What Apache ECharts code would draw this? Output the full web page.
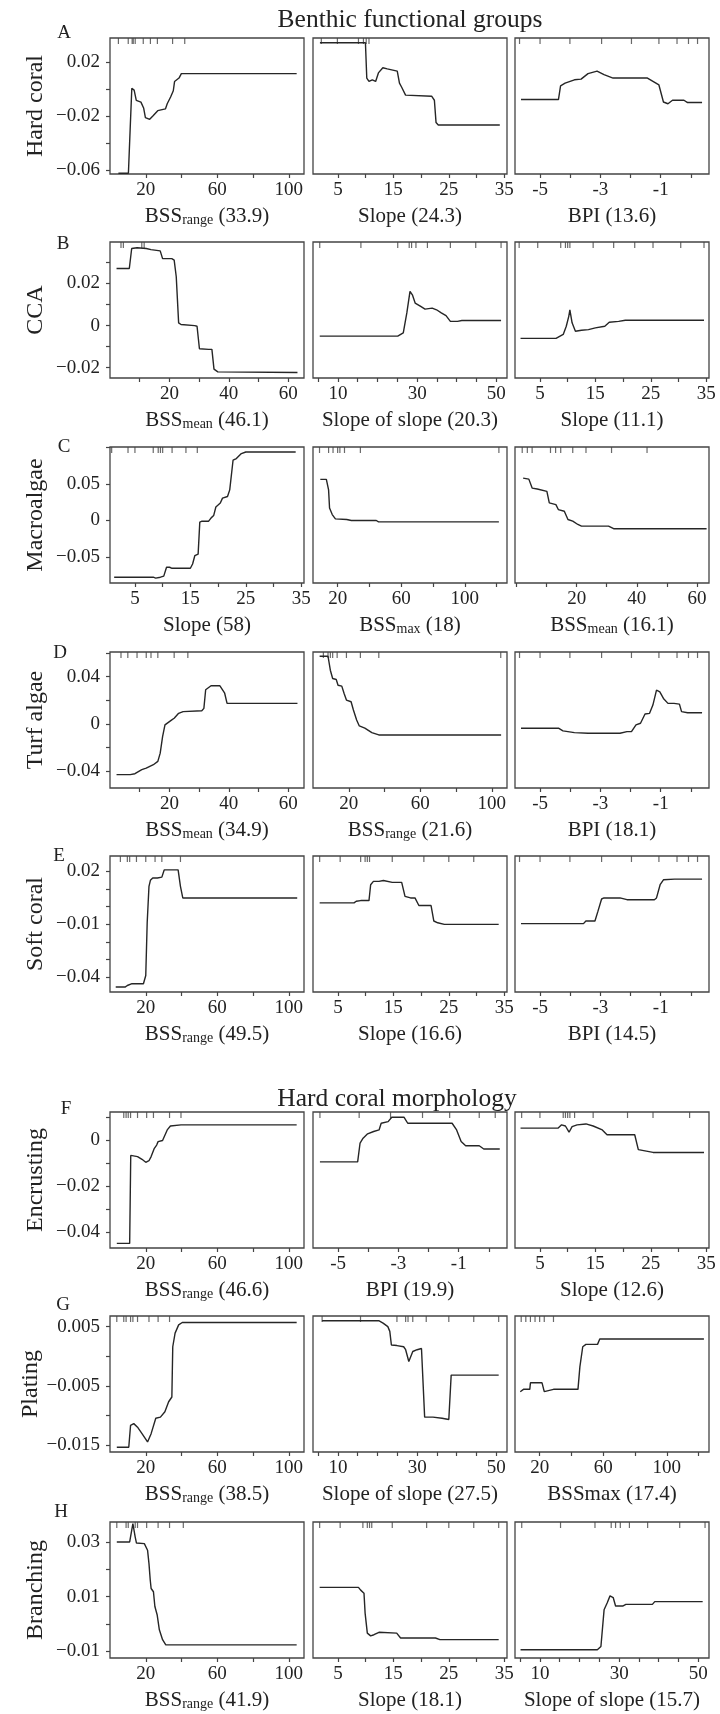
<!DOCTYPE html>
<html>
<head>
<meta charset="utf-8">
<title>Benthic functional groups / Hard coral morphology</title>
<script src="https://cdn.jsdelivr.net/npm/echarts@6/dist/echarts.min.js"></script>
<style>
  html, body { margin: 0; padding: 0; background: #fff; }
  #chart { width: 720px; height: 1714px; }
</style>
</head>
<body>
<div id="chart"></div>
<script>
// row labels and panel names
var rowNames = ['Hard coral', 'CCA', 'Macroalgae', 'Turf algae', 'Soft coral', 'Encrusting', 'Plating', 'Branching'];
var rowLetters = ['A', 'B', 'C', 'D', 'E', 'F', 'G', 'H'];
// [main, subscript, relative influence]
var panelNames = [
  [['BSS', 'range', '33.9'], ['Slope', '', '24.3'], ['BPI', '', '13.6']],
  [['BSS', 'mean', '46.1'], ['Slope of slope', '', '20.3'], ['Slope', '', '11.1']],
  [['Slope', '', '58'], ['BSS', 'max', '18'], ['BSS', 'mean', '16.1']],
  [['BSS', 'mean', '34.9'], ['BSS', 'range', '21.6'], ['BPI', '', '18.1']],
  [['BSS', 'range', '49.5'], ['Slope', '', '16.6'], ['BPI', '', '14.5']],
  [['BSS', 'range', '46.6'], ['BPI', '', '19.9'], ['Slope', '', '12.6']],
  [['BSS', 'range', '38.5'], ['Slope of slope', '', '27.5'], ['BSSmax', '', '17.4']],
  [['BSS', 'range', '41.9'], ['Slope', '', '18.1'], ['Slope of slope', '', '15.7']]
];
var panelVars = [
  ['range', 'slope', 'bpi'], ['mean', 'sos', 'slope'], ['slope', 'max', 'mean2'], ['mean', 'range', 'bpi'],
  ['range', 'slope', 'bpi'], ['range', 'bpi', 'slope'], ['range', 'sos', 'max'], ['range', 'slope', 'sos']
];

// x axes: limits, ticks, labels
var xLimits = {
  range: [0, 108.5], slope: [0.5, 35.5], bpi: [-5.83, 0.6], mean: [0, 65.3],
  mean2: [-0.5, 64], sos: [3.7, 52.7], max: [4.5, 126.5]
};
var xTicks = {
  range: [20, 40, 60, 80, 100], slope: [5, 10, 15, 20, 25, 30, 35], bpi: [-5, -4, -3, -2, -1, 0],
  mean: [10, 20, 30, 40, 50, 60], mean2: [0, 10, 20, 30, 40, 50, 60],
  sos: [5, 10, 15, 20, 25, 30, 35, 40, 45, 50], max: [20, 40, 60, 80, 100, 120]
};
var xLabels = {
  range: [20, 60, 100], slope: [5, 15, 25, 35], bpi: [-5, -3, -1], mean: [20, 40, 60],
  mean2: [20, 40, 60], sos: [10, 30, 50], max: [20, 60, 100]
};

// y axes per row
var yLimits = [[-0.0628, 0.0377], [-0.0249, 0.0397], [-0.085, 0.1], [-0.0542, 0.0609],
  [-0.0484, 0.0288], [-0.0468, 0.0124], [-0.0162, 0.0068], [-0.0124, 0.0373]];
var yTicks = [[-0.06, -0.04, -0.02, 0, 0.02], [-0.02, -0.01, 0, 0.01, 0.02, 0.03], [-0.05, 0, 0.05, 0.1],
  [-0.04, -0.02, 0, 0.02, 0.04, 0.06], [-0.04, -0.03, -0.02, -0.01, 0, 0.01, 0.02],
  [-0.04, -0.03, -0.02, -0.01, 0, 0.01], [-0.015, -0.01, -0.005, 0, 0.005], [-0.01, 0, 0.01, 0.02, 0.03]];
var yLabels = [[-0.06, -0.02, 0.02], [-0.02, 0, 0.02], [-0.05, 0, 0.05], [-0.04, 0, 0.04],
  [-0.04, -0.01, 0.02], [-0.04, -0.02, 0], [-0.015, -0.005, 0.005], [-0.01, 0.01, 0.03]];

// partial dependence curves
var a1 = [[4.7,-0.0623],[10.3,-0.0623],[11.3,-0.0288],[12.2,0.0005],[13.5,-0.0008],[14.7,-0.0084],[17.3,-0.0097],[18.8,-0.014],[19.8,-0.0211],[22.2,-0.0224],[24.1,-0.0198],[26.7,-0.016],[31,-0.0147],[32,-0.0109],[33.9,-0.0059],[35.4,-0.0013],[36.1,0.0055],[38.6,0.0081],[39.9,0.0114],[104.4,0.0114]];
var a2 = [[1.75,0.0342],[9.96,0.0342],[10.2,0.0081],[10.6,0.0056],[11.2,0.0068],[11.8,0.0056],[12.3,0.0119],[13.1,0.0157],[13.9,0.0149],[15.7,0.0132],[16.1,0.0043],[16.5,0.0013],[17.2,-0.0045],[21.9,-0.0053],[22.4,-0.0083],[22.7,-0.0248],[23.1,-0.0266],[34.2,-0.0266]];
var a3 = [[-5.63,-0.0078],[-4.39,-0.0078],[-4.32,0.0023],[-4.17,0.0043],[-3.86,0.0068],[-3.64,0.0073],[-3.41,0.0114],[-3.11,0.0132],[-2.88,0.0106],[-2.58,0.0081],[-1.44,0.0081],[-1.06,0.003],[-0.91,-0.0096],[-0.76,-0.0109],[-0.61,-0.0083],[-0.23,-0.0083],[-0.11,-0.01],[0.37,-0.01]];
var b1 = [[2.2,0.0271],[6.5,0.0271],[7.3,0.0366],[9.1,0.037],[12.2,0.0366],[13.8,0.0361],[16.9,0.0355],[17.7,0.0318],[20.8,0.0318],[21.6,0.0311],[22.3,0.0232],[23.1,0.0013],[23.9,0.0005],[28.5,0],[29.3,-0.0003],[30.1,-0.011],[33.2,-0.0113],[34.3,-0.0113],[35,-0.0207],[36.3,-0.022],[63.1,-0.0223]];
var b2 = [[5.4,-0.005],[25.1,-0.005],[26.5,-0.0035],[27.4,0.006],[28.2,0.0162],[28.8,0.0146],[29.5,0.0107],[30.9,0.0091],[32,0.0078],[33.8,0.0083],[34.9,0.0075],[36.1,0.006],[37.3,0.0047],[38.4,0.002],[40.2,0.002],[41.3,0.0024],[51.2,0.0024]];
var b3 = [[1.5,-0.0061],[7.9,-0.0061],[9.2,-0.0042],[9.75,-0.0003],[10.2,0.0044],[10.4,0.0075],[10.8,0.0013],[11.4,-0.0027],[12.5,-0.0022],[13.75,-0.0019],[15,-0.0011],[16.7,-0.0003],[17.5,0.0016],[19.2,0.002],[20.4,0.0025],[34.6,0.0025]];
var c1 = [[1.25,-0.0771],[8.3,-0.0771],[8.75,-0.0784],[9.6,-0.0771],[10.2,-0.0757],[10.7,-0.0636],[11.25,-0.0636],[11.7,-0.065],[15,-0.065],[15.4,-0.0591],[15.8,-0.0479],[16.4,-0.0457],[16.7,-0.0022],[17.1,-0.0009],[18.3,-0.0009],[18.75,0.0036],[19.2,0.0067],[19.6,0.0184],[20.4,0.0237],[20.8,0.0305],[21.7,0.0327],[22.1,0.0417],[22.7,0.082],[23.3,0.0842],[24.2,0.091],[25,0.0932],[34,0.0932]];
var c2 = [[9.1,0.056],[12.9,0.056],[14.3,0.0417],[14.9,0.017],[16.6,0.0081],[18.6,0.0022],[25.7,0.0013],[28.6,0],[44.3,0],[45.7,-0.0018],[121.4,-0.0018]];
var c3 = [[2.2,0.0576],[4.1,0.0563],[5.2,0.0441],[6.9,0.0428],[10.1,0.0396],[10.9,0.0239],[13.1,0.0216],[13.9,0.0149],[15.9,0.0126],[17.1,0.0014],[18.7,-0.0009],[20.4,-0.0054],[21.6,-0.0077],[30.6,-0.0077],[32.3,-0.0112],[63.2,-0.0112]];
var d1 = [[2.2,-0.0429],[6.8,-0.0429],[8.4,-0.0421],[10.7,-0.0387],[12.2,-0.0373],[14.6,-0.0345],[16.1,-0.0317],[16.9,-0.0247],[17.7,-0.0107],[18.5,-0.0008],[20,0.002],[20.8,0.0034],[21.6,0.0048],[23.1,0.009],[24.6,0.0104],[30.9,0.0112],[31.6,0.0132],[32.2,0.029],[34,0.0323],[37,0.0323],[38.6,0.026],[39.4,0.0174],[63.1,0.0174]];
var d2 = [[3.7,0.0573],[8.4,0.0573],[9.7,0.0455],[11,0.0385],[13,0.0376],[14,0.0328],[16.1,0.032],[17.4,0.0258],[18.7,0.0202],[21.3,0.0188],[22.6,0.0118],[24.4,0.0034],[25.9,-0.0017],[29,-0.0036],[32.9,-0.0073],[36.8,-0.0093],[105.2,-0.0093]];
var d3 = [[-5.63,-0.0036],[-4.39,-0.0036],[-4.24,-0.0059],[-3.86,-0.0073],[-3.41,-0.0079],[-2.35,-0.0079],[-2.12,-0.0065],[-1.97,-0.0065],[-1.82,-0.0008],[-1.67,0.0006],[-1.52,0.0084],[-1.37,0.009],[-1.26,0.016],[-1.14,0.0286],[-1.03,0.0272],[-0.91,0.0216],[-0.76,0.0174],[-0.56,0.0174],[-0.38,0.0168],[-0.31,0.0104],[-0.11,0.0095],[0.37,0.0095]];
var e1 = [[3.2,-0.0456],[8.4,-0.0456],[9.7,-0.0447],[12.3,-0.0437],[18.7,-0.0437],[20,-0.039],[20.8,-0.0091],[21.8,0.0116],[22.6,0.015],[23.9,0.0163],[26.5,0.0163],[29,0.0168],[30.3,0.0209],[38.1,0.0209],[39.4,0.0116],[40.7,0.005],[104.7,0.005]];
var e2 = [[1.7,0.0022],[7.9,0.0022],[8.3,0.0031],[9.1,0.0035],[10.6,0.0035],[10.9,0.0125],[11.4,0.0144],[12.4,0.0144],[13.2,0.0149],[14.8,0.0138],[16.5,0.0138],[17.1,0.0059],[18.1,0.005],[18.9,0.005],[19.6,0.0007],[21.8,0.0007],[22.3,-0.0081],[23,-0.0091],[24.2,-0.01],[34,-0.01]];
var e3 = [[-5.63,-0.0096],[-3.56,-0.0096],[-3.48,-0.0081],[-3.18,-0.0081],[-3.08,-0.0025],[-2.96,0.0044],[-2.88,0.005],[-2.35,0.005],[-2.12,0.004],[-1.21,0.004],[-1.14,0.005],[-1.02,0.0125],[-0.91,0.0153],[-0.54,0.0157],[0.37,0.0157]];
var f1 = [[3.8,-0.0448],[11,-0.0448],[11.6,-0.0065],[12.3,-0.0065],[15.4,-0.007],[17.9,-0.0082],[20,-0.0095],[21.8,-0.0088],[23,-0.007],[24.8,-0.0034],[26.1,-0.002],[26.9,-0.0005],[29.4,0],[32,0.0046],[33.8,0.0063],[39.7,0.0068],[104.4,0.0068]];
var f2 = [[-5.6,-0.0093],[-4.35,-0.0093],[-4.27,-0.0011],[-4.17,0.001],[-4.02,0.0029],[-3.82,0.0039],[-3.64,0.0046],[-3.57,0.0075],[-3.34,0.0082],[-3.22,0.0101],[-2.81,0.0101],[-2.69,0.0075],[-1.22,0.0075],[-1.07,0.0046],[-0.92,-0.0004],[-0.77,-0.0023],[-0.32,-0.0023],[-0.17,-0.0037],[0.36,-0.0037]];
var f3 = [[1.5,0.0054],[8.3,0.0054],[8.9,0.0068],[9.6,0.0063],[10.25,0.0036],[10.8,0.006],[11.7,0.0068],[13.3,0.0072],[14.6,0.0063],[16.25,0.0046],[17.1,0.0025],[22.1,0.0025],[22.75,-0.004],[25.4,-0.0052],[34.6,-0.0052]];
var g1 = [[3.8,-0.0154],[10.5,-0.0154],[11.5,-0.0117],[13.3,-0.0114],[15.4,-0.012],[17.9,-0.0131],[21,-0.0145],[23,-0.0131],[25.6,-0.0105],[28.2,-0.0103],[30.7,-0.0094],[32.8,-0.0077],[34.6,-0.0069],[35.1,0.0016],[36.4,0.0039],[38.4,0.0053],[40.4,0.0057],[104.4,0.0057]];
var g2 = [[6,0.006],[20.3,0.006],[21.4,0.0056],[22.6,0.005],[23.1,0.0042],[23.5,0.0019],[24.9,0.0018],[26.6,0.0016],[27.1,0.0011],[27.9,-0.0009],[28.9,0.0008],[30,0.0011],[31.1,0.0013],[31.5,0.0011],[31.9,-0.0103],[34,-0.0103],[36.3,-0.0105],[38,-0.0107],[38.6,-0.0032],[39.7,-0.0032],[50.6,-0.0032]];
var g3 = [[7.8,-0.006],[9.8,-0.0056],[13.8,-0.0056],[14.2,-0.0045],[21.5,-0.0045],[22.9,-0.006],[28.7,-0.0056],[44.1,-0.0056],[45.3,-0.0018],[47.1,0.0016],[49.1,0.002],[56.4,0.002],[57.8,0.0029],[123.3,0.0029]];
var h1 = [[3.8,0.03],[11,0.03],[12.8,0.0367],[14.1,0.0318],[14.8,0.0296],[19.2,0.0294],[21,0.027],[21.8,0.0221],[22.5,0.0161],[23,0.013],[24.3,0.0118],[25.1,0.0064],[26.4,0.0033],[27.6,-0.0021],[29.4,-0.0057],[31.2,-0.0076],[104.4,-0.0076]];
var h2 = [[1.7,0.0134],[8.7,0.0134],[9.1,0.0124],[9.7,0.0113],[9.9,0.004],[10.3,-0.0033],[10.9,-0.0043],[11.5,-0.0039],[12.4,-0.003],[15.6,-0.0033],[16.3,-0.0051],[22.6,-0.0051],[23.4,-0.0057],[34,-0.0057]];
var h3 = [[5.1,-0.0094],[24.5,-0.0094],[25.4,-0.0082],[26.2,0.0052],[27,0.0078],[27.7,0.0103],[28.5,0.0097],[29.1,0.0066],[30.9,0.0066],[31.7,0.0072],[38.4,0.0072],[39,0.0082],[51.1,0.0082]];

// deciles rug (top of each panel)
var ra1 = [4.7, 10.2, 12.4, 13, 14.1, 18.6, 22.6, 26.5, 35, 41.8];
var ra2 = [2, 4.9, 8.7, 9.6, 10.1, 10.6];
var ra3 = [-5.68, -5, -4.01, -2.96, -1.97, -1.06, -0.46, -0.08, 0.22];
var rb1 = [3.7, 4.5, 10.7, 11.5];
var rb2 = [5.4, 15.8, 25.1, 28, 28.6, 29.7, 32.6, 38.4, 44.8, 51.2];
var rb3 = [1.25, 4.6, 8.75, 9.6, 10, 10.4, 14.6, 18.3, 22.1, 25.4, 30.4, 34.6];
var rc1 = [0.8, 3.75, 5, 8.3, 9.2, 9.6, 10, 11.7, 14.2, 16.25];
var rc2 = [8.6, 14.3, 17.1, 20, 21.4, 24.3, 34.3, 121.4];
var rc3 = [1.9, 3.6, 5.2, 11.3, 13, 14.7, 18.7, 23.1, 31.6, 43.4];
var rd1 = [3.7, 6, 9.1, 12.2, 13.8, 16.1, 21.6, 26.2];
var rd2 = [5.8, 8.4, 9.7, 11, 13.5, 18.7, 26.5, 36.8, 105];
var rd3 = [-5.68, -5, -4.01, -2.96, -1.97, -1.06, -0.46, -0.08, 0.22];
var re1 = [5.8, 9.7, 11, 14.8, 20, 25.2, 29, 39.4];
var re2 = [1.7, 5.4, 9.1, 9.9, 10.3, 10.7, 14.8, 20.5, 25, 29.5];
var re3 = [-5.68, -5, -4.01, -2.96, -1.97, -1.06, -0.46, -0.08, 0.22];
var rf1 = [7.7, 9, 10.2, 11.5, 15.4, 20.5, 24.3, 33.3, 39.7];
var rf2 = [-5.6, -4.3, -3.26, -2.2, -1.3, -0.32, 0.21];
var rf3 = [1.7, 5, 9.2, 9.6, 10, 10.4, 11.25, 14.6, 20.8, 25.4, 32];
var rg1 = [3.8, 7.7, 9, 11.5, 12.8, 15.4, 21.8, 26.9, 33.3];
var rg2 = [6, 15.7, 24.9, 27.1, 27.7, 28.9, 32.3, 38, 44.3, 50.6];
var rg3 = [8.4, 11.3, 14.2, 17.1, 20, 22.9, 28.7];
var rh1 = [3.8, 9, 10.2, 14.1, 15.4, 20.5, 26.9, 33.3, 41];
var rh2 = [1.7, 5.4, 9.5, 10.3, 10.7, 11.1, 14.8, 21, 25, 29.5, 34];
var rh3 = [5.4, 15.2, 23.9, 28, 29.1, 30.3, 32.6, 37.2, 45.3, 51.7];

var curves = [[a1, a2, a3], [b1, b2, b3], [c1, c2, c3], [d1, d2, d3], [e1, e2, e3], [f1, f2, f3], [g1, g2, g3], [h1, h2, h3]];
var rugs = [[ra1, ra2, ra3], [rb1, rb2, rb3], [rc1, rc2, rc3], [rd1, rd2, rd3], [re1, re2, re3], [rf1, rf2, rf3], [rg1, rg2, rg3], [rh1, rh2, rh3]];

// layout
var FONT = 'Liberation Serif';
var INK = '#222';
var colLeft = [110, 313, 515];
var rowTop = [38, 242, 447, 652, 856, 1112, 1316, 1522];
var plotW = 194, plotH = 136;
var letterPos = [[64, 33], [63, 244], [64, 447], [60, 653], [59, 856], [66, 1109], [63, 1305], [61, 1512]];

function fmtY(v) {
  var s = String(Math.round(v * 100000) / 100000);
  return s.replace('-', '\u2212');
}

var tickStyle = { color: '#444', width: 1.2 };
var grids = [], xAxes = [], yAxes = [], series = [];
var graphics = [
  { type: 'text', x: 410, y: 20, style: { text: 'Benthic functional groups', font: '25.5px ' + FONT, fill: INK, textAlign: 'center', textVerticalAlign: 'middle', align: 'center', verticalAlign: 'middle' } },
  { type: 'text', x: 397, y: 1099, style: { text: 'Hard coral morphology', font: '25.5px ' + FONT, fill: INK, textAlign: 'center', textVerticalAlign: 'middle', align: 'center', verticalAlign: 'middle' } }
];

for (var r = 0; r < 8; r++) {
  for (var c = 0; c < 3; c++) {
    var i = grids.length;
    var xv = panelVars[r][c];
    var nm = panelNames[r][c];
    grids.push({
      left: colLeft[c], top: rowTop[r], width: plotW, height: plotH,
      show: true, borderColor: '#444', borderWidth: 1.3, backgroundColor: 'transparent'
    });
    xAxes.push({
      gridIndex: i, type: 'value', position: 'bottom', min: xLimits[xv][0], max: xLimits[xv][1],
      axisLine: { show: false, onZero: false }, splitLine: { show: false },
      axisTick: { customValues: xTicks[xv], length: 4, lineStyle: tickStyle },
      axisLabel: { customValues: xLabels[xv], margin: 7, fontFamily: FONT, fontSize: 19, color: INK }
    });
    yAxes.push({
      gridIndex: i, type: 'value', position: 'left', min: yLimits[r][0], max: yLimits[r][1],
      axisLine: { show: false, onZero: false }, splitLine: { show: false },
      axisTick: { show: c === 0, customValues: yTicks[r], length: 4, lineStyle: tickStyle },
      axisLabel: { show: c === 0, customValues: yLabels[r], margin: 10, fontFamily: FONT, fontSize: 19, color: INK, formatter: fmtY },
      name: c === 0 ? rowNames[r] : '', nameLocation: 'middle', nameRotate: 90, nameGap: 62,
      nameTextStyle: { fontFamily: FONT, fontSize: 24, color: INK }
    });
    series.push({
      type: 'line', xAxisIndex: i, yAxisIndex: i, data: curves[r][c],
      symbol: 'none', lineStyle: { color: '#262626', width: 1.4 }, silent: true
    });
    series.push({
      type: 'scatter', xAxisIndex: i, yAxisIndex: i,
      data: rugs[r][c].map(function (x) { return [x, yLimits[r][1]]; }),
      symbol: 'rect', symbolSize: [1.2, 6], symbolOffset: [0, 3],
      itemStyle: { color: '#444' }, silent: true
    });
    // x-axis title, subscript as a rich token
    var txt = '{a|' + nm[0] + '}' + (nm[1] ? '{s|' + nm[1] + '}' : '') + '{a| (' + nm[2] + ')}';
    graphics.push({
      type: 'text', x: colLeft[c] + plotW / 2, y: rowTop[r] + plotH + 42,
      style: {
        text: txt, font: '21px ' + FONT, fill: INK,
        textAlign: 'center', textVerticalAlign: 'middle', align: 'center', verticalAlign: 'middle',
        rich: {
          a: { fontSize: 21, fontFamily: FONT, fill: INK },
          s: { fontSize: 14, fontFamily: FONT, fill: INK, padding: [9, 0, 0, 0] }
        }
      }
    });
  }
}

rowLetters.forEach(function (L, k) {
  graphics.push({ type: 'text', x: letterPos[k][0], y: letterPos[k][1], style: { text: L, font: '19px ' + FONT, fill: INK, textAlign: 'center', textVerticalAlign: 'middle', align: 'center', verticalAlign: 'middle' } });
});

var chart = echarts.init(document.getElementById('chart'), null, { renderer: 'canvas' });
chart.setOption({
  backgroundColor: '#fff',
  animation: false,
  textStyle: { fontFamily: FONT },
  grid: grids,
  xAxis: xAxes,
  yAxis: yAxes,
  series: series,
  graphic: graphics
});
</script>
</body>
</html>
